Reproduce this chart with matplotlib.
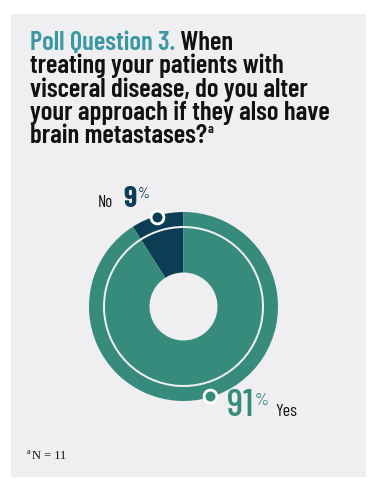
import matplotlib
matplotlib.use("Agg")
import matplotlib.pyplot as plt
from matplotlib.patches import Rectangle
import numpy as np

# Data
categories = ["No", "Yes"]
values = [9, 91]
n_respondents = 11
title_lead = "Poll Question 3."
title_lines = [" When", "treating your patients with", "visceral disease, do you alter",
               "your approach if they also have", "brain metastases?"]

TEAL = "#378b7c"
NAVY = "#0c3d55"
TITLE_TEAL = "#3a97a3"
PANEL = "#efeff1"
FONT = ["Barlow Condensed", "DejaVu Sans"]
SERIF = ["Liberation Serif", "DejaVu Serif"]

W, H = 378, 486
fig = plt.figure(figsize=(W / 100, H / 100), dpi=100)
fig.patch.set_facecolor("white")
renderer = fig.canvas.get_renderer()

bg = fig.add_axes([0, 0, 1, 1])
bg.set_xlim(0, W)
bg.set_ylim(H, 0)
bg.axis("off")
bg.add_patch(Rectangle((11, 14), 355, 463, facecolor=PANEL, edgecolor="none"))


def fit_width(t, target):
    w = t.get_window_extent(renderer).width
    t.set_fontsize(t.get_fontsize() * target / w)


def fit_height(t, target):
    h = t.get_window_extent(renderer).height
    t.set_fontsize(t.get_fontsize() * target / h)


def right_edge(t):
    return t.get_window_extent(renderer).x1 * W / fig.bbox.width


TW = 600
probe = bg.text(0, 0, title_lines[2], fontsize=16, fontweight=TW, family=FONT)
fit_width(probe, 278)
TS = probe.get_fontsize()
probe.remove()

t0 = bg.text(30, 50, title_lead, color=TITLE_TEAL, fontsize=TS, fontweight=TW,
             family=FONT, va="baseline", ha="left")
bg.annotate(title_lines[0], xy=(1, 0), xycoords=t0, va="bottom", ha="left",
            fontsize=TS, fontweight=TW, family=FONT, color="#111111")
last = None
for i, line in enumerate(title_lines[1:]):
    last = bg.text(30, 73.5 + 23 * i, line, color="#111111", fontsize=TS, fontweight=TW,
                   family=FONT, va="baseline", ha="left")
bg.text(right_edge(last) + 1, 133, "a", fontsize=TS * 0.5,
        fontweight=TW, family=FONT, color="#111111", va="baseline")

# Footnote
bg.text(27, 454, "a", fontsize=6, family=SERIF, color="#111111", va="baseline")
bg.text(32, 459, f"N = {n_respondents}", fontsize=9, family=SERIF, color="#111111",
        va="baseline")

# Donut axes: center (183.5, 306.5) px, 200 px box => data unit = 100 px
cx, cy = 183.5, 306.5
ax = fig.add_axes([(cx - 100) / W, (H - cy - 100) / H, 200 / W, 200 / H])
ax.set_aspect("equal")
ax.axis("off")

colors = [NAVY, TEAL]
outer, _ = ax.pie(values, radius=0.945, startangle=90, counterclock=True, colors=colors,
                  wedgeprops=dict(width=0.14, edgecolor="none"))
inner, _ = ax.pie(values, radius=0.785, startangle=90, counterclock=True, colors=colors,
                  wedgeprops=dict(width=0.445, edgecolor="none"))
ax.set_xlim(-1, 1)
ax.set_ylim(-1, 1)

for w, c in zip(outer, colors):
    mid = np.deg2rad((w.theta1 + w.theta2) / 2)
    ax.scatter([0.935 * np.cos(mid)], [0.935 * np.sin(mid)], s=85, color=c,
               edgecolor="white", linewidth=2.0, zorder=5, clip_on=False)

# Labels
bg.text(97.5, 207, categories[0], fontsize=12, family=FONT, color="#111111", va="baseline")
t9 = bg.text(123.5, 207, f"{values[0]}", fontsize=22, fontweight="bold", family=FONT,
             color=NAVY, va="baseline")
bg.text(right_edge(t9) + 1, 198, "%", fontsize=11, family=FONT, color=NAVY, va="baseline")

t91 = bg.text(226.5, 416, f"{values[1]}", fontsize=28, fontweight="medium", family=FONT,
              color=TEAL, va="baseline")
bg.text(right_edge(t91) + 2, 405, "%", fontsize=13, family=FONT, color=TEAL, va="baseline")
bg.text(275, 416, categories[1], fontsize=13, family=FONT, color="#111111", va="baseline")

fig.savefig("out.png", dpi=100, facecolor="white")
